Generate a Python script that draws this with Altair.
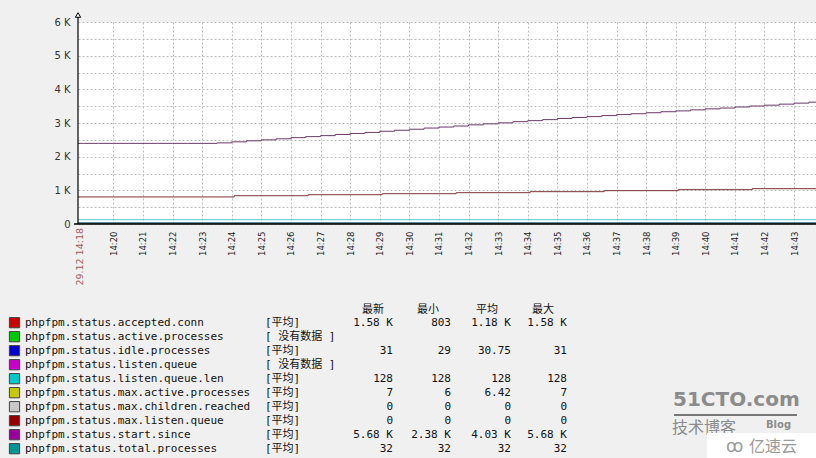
import altair as alt
import pandas as pd

# ---------------- data ----------------
x_domain = [18.807, 43.74]            # minutes after 14:00 (14:18:48 .. 14:43:44)
minute_ticks = list(range(20, 44))    # 14:20 .. 14:43
y_ticks = list(range(0, 6001, 500))

since_times = ["14:18:30", "14:19:00", "14:19:30", "14:20:00", "14:20:30", "14:21:00",
               "14:21:30", "14:22:00", "14:22:30", "14:23:00", "14:23:30", "14:24:00",
               "14:24:30", "14:25:00", "14:25:30", "14:26:00", "14:26:30", "14:27:00",
               "14:27:30", "14:28:00", "14:28:30", "14:29:00", "14:29:30", "14:30:00",
               "14:30:30", "14:31:00", "14:31:30", "14:32:00", "14:32:30", "14:33:00",
               "14:33:30", "14:34:00", "14:34:30", "14:35:00", "14:35:30", "14:36:00",
               "14:36:30", "14:37:00", "14:37:30", "14:38:00", "14:38:30", "14:39:00",
               "14:39:30", "14:40:00", "14:40:30", "14:41:00", "14:41:30", "14:42:00",
               "14:42:30", "14:43:00", "14:43:30", "14:44:00"]
since_values = [2395, 2395, 2395, 2395, 2395, 2395, 2395, 2395, 2395, 2395, 2410, 2440,
                2470, 2500, 2530, 2565, 2595, 2625, 2660, 2690, 2720, 2755, 2785, 2815,
                2850, 2880, 2910, 2945, 2975, 3005, 3040, 3070, 3100, 3135, 3165, 3190,
                3220, 3250, 3275, 3305, 3335, 3360, 3390, 3420, 3445, 3475, 3505, 3530,
                3560, 3590, 3620, 3645]

conn_times = ["14:18:30", "14:24:05", "14:26:35", "14:29:05", "14:31:35", "14:34:05",
              "14:36:35", "14:39:05", "14:41:35", "14:44:00"]
conn_values = [803, 840, 870, 900, 930, 960, 990, 1020, 1050, 1050]

flat_times = ["14:18:30", "14:44:00"]
idle_values = [31, 31]
queue_len_values = [128, 128]
max_active_values = [7, 7]
max_children_values = [0, 0]
max_listen_values = [0, 0]
total_values = [32, 32]

# legend table
names = ["phpfpm.status.accepted.conn", "phpfpm.status.active.processes",
         "phpfpm.status.idle.processes", "phpfpm.status.listen.queue",
         "phpfpm.status.listen.queue.len", "phpfpm.status.max.active.processes",
         "phpfpm.status.max.children.reached", "phpfpm.status.max.listen.queue",
         "phpfpm.status.start.since", "phpfpm.status.total.processes"]
swatch_colors = ["#C80000", "#00C800", "#0000C8", "#C800C8", "#00C8C8",
                 "#C8C800", "#C8C8C8", "#960000", "#960096", "#009696"]
funcs = ["[平均]", "[ 没有数据 ]", "[平均]", "[ 没有数据 ]", "[平均]",
         "[平均]", "[平均]", "[平均]", "[平均]", "[平均]"]
col_last = ["1.58 K", "", "31", "", "128", "7", "0", "0", "5.68 K", "32"]
col_min = ["803", "", "29", "", "128", "6", "0", "0", "2.38 K", "32"]
col_avg = ["1.18 K", "", "30.75", "", "128", "6.42", "0", "0", "4.03 K", "32"]
col_max = ["1.58 K", "", "31", "", "128", "7", "0", "0", "5.68 K", "32"]
headers = ["最新", "最小", "平均", "最大"]

# apparent line colours in the plot (thin lines look darker than the swatches)
line_names = ["accepted.conn", "idle.processes", "listen.queue.len", "max.active.processes",
              "max.children.reached", "max.listen.queue", "start.since", "total.processes"]
line_colors = ["#7a3436", "#3a3a8a", "#5ec6c6", "#a09a40", "#b0b0b0", "#6a2020",
               "#6a386a", "#2a8a86"]


def to_min(s):
    h, m, sec = map(int, s.split(":"))
    return (h - 14) * 60 + m + sec / 60.0


rows = []
for t, v in zip(conn_times, conn_values):
    rows.append((to_min(t), v, "accepted.conn"))
for lst, nm in [(idle_values, "idle.processes"), (queue_len_values, "listen.queue.len"),
                (max_active_values, "max.active.processes"),
                (max_children_values, "max.children.reached"),
                (max_listen_values, "max.listen.queue")]:
    for t, v in zip(flat_times, lst):
        rows.append((to_min(t), v, nm))
for t, v in zip(since_times, since_values):
    rows.append((to_min(t), v, "start.since"))
for t, v in zip(flat_times, total_values):
    rows.append((to_min(t), v, "total.processes"))
series_df = pd.DataFrame(rows, columns=["t", "value", "series"])

legend_df = pd.DataFrame({
    "row": list(range(len(names))), "name": names, "swatch": swatch_colors,
    "func": funcs, "last": col_last, "min": col_min, "avg": col_avg, "max": col_max,
})
one = pd.DataFrame({"k": [0]})

W, H = 738, 202
GRID = "#bdbdbd"
MONO = "DejaVu Sans Mono, Noto Sans CJK SC"

x_enc = alt.X("t:Q", scale=alt.Scale(domain=x_domain, nice=False, zero=False),
              axis=alt.Axis(values=minute_ticks, labelExpr="'14:' + datum.value",
                            labelAngle=270, labelAlign="right", labelBaseline="middle",
                            labelPadding=7, labelFont="DejaVu Sans", labelFontSize=8.5,
                            labelColor="#222222", grid=True, gridDash=[2, 2],
                            gridColor=GRID, ticks=False, domain=False, title=None,
                            labelOverlap=False, labelFlush=False, labelBound=False))
y_enc = alt.Y("value:Q", scale=alt.Scale(domain=[0, 6000], nice=False),
              axis=alt.Axis(values=y_ticks,
                            labelExpr="datum.value == 0 ? '0' : (datum.value % 1000 == 0 ? (datum.value / 1000) + ' K' : '')",
                            grid=True, gridDash=[2, 2], gridColor=GRID, ticks=False,
                            domain=False, labelFont="DejaVu Sans", labelFontSize=10,
                            labelColor="#333333", labelPadding=8, title=None))

lines = alt.Chart(series_df).mark_line(strokeWidth=1, interpolate="step-after", clip=True).encode(
    x=x_enc, y=y_enc,
    color=alt.Color("series:N", scale=alt.Scale(domain=line_names, range=line_colors), legend=None),
)

deco = alt.Chart(one)
y_axis_line = deco.mark_rule(color="black", strokeWidth=1.2).encode(
    x=alt.value(0), y=alt.value(-9), y2=alt.value(H))
x_axis_line = deco.mark_rule(color="black", strokeWidth=1.5).encode(
    x=alt.value(-4), x2=alt.value(W), y=alt.value(H))
arrow = deco.mark_point(shape="triangle-up", filled=True, fill="white",
                        stroke="black", strokeWidth=1, size=28, opacity=1).encode(
    x=alt.value(0), y=alt.value(-7))
start_label = deco.mark_text(
    text="29.12 14:18", angle=270, align="right", baseline="middle",
    font="DejaVu Sans", fontSize=9.5, color="#a05a5a").encode(
    x=alt.value(2), y=alt.value(206))

plot = alt.layer(lines, y_axis_line, x_axis_line, arrow, start_label)

# ---------------- legend table ----------------
row_y = alt.Y("row:Q", scale=alt.Scale(domain=[0, 9], range=[300.7, 426.7], nice=False, zero=False),
              axis=None)
leg_base = alt.Chart(legend_df)
swatches = leg_base.mark_square(size=105, filled=True, stroke="#444444", strokeWidth=1, opacity=1).encode(
    x=alt.value(-63.5), y=row_y, fill=alt.Fill("swatch:N", scale=None))
name_txt = leg_base.mark_text(align="left", baseline="middle", font=MONO, fontSize=11,
                              color="#111111").encode(x=alt.value(-53), y=row_y, text="name:N")
func_txt = leg_base.mark_text(align="left", baseline="middle", font=MONO, fontSize=11,
                              color="#111111").encode(x=alt.value(187), y=row_y, text="func:N")
legend_layers = [swatches, name_txt, func_txt]
for field, right_x, head, head_x in [("last", 315, headers[0], 295), ("min", 373, headers[1], 350),
                                     ("avg", 433, headers[2], 409), ("max", 489, headers[3], 465)]:
    legend_layers.append(leg_base.mark_text(align="right", baseline="middle", font=MONO, fontSize=11,
                                            color="#111111").encode(
        x=alt.value(right_x), y=row_y, text=f"{field}:N"))
    legend_layers.append(deco.mark_text(
        text=head, align="center", baseline="middle", font=MONO, fontSize=11, color="#111111").encode(
        x=alt.value(head_x), y=alt.value(288)))

# watermark
legend_layers += [
    deco.mark_text(text="51CTO.com", align="left", baseline="middle", font="DejaVu Sans",
                   fontWeight="bold", fontSize=20, color="#8c8c8c").encode(x=alt.value(595), y=alt.value(378)),
    deco.mark_rule(color="#777777", strokeWidth=2).encode(x=alt.value(596), x2=alt.value(719), y=alt.value(393)),
    deco.mark_text(text="技术博客", align="left", baseline="middle", font="Noto Sans CJK SC",
                   fontSize=16, color="#8c8c8c").encode(x=alt.value(594), y=alt.value(406)),
    deco.mark_text(text="Blog", align="left", baseline="middle", font="DejaVu Sans",
                   fontWeight="bold", fontSize=10, color="#8c8c8c").encode(x=alt.value(688), y=alt.value(403)),
    deco.mark_rect(color="white", opacity=1).encode(x=alt.value(629), x2=alt.value(738),
                                                    y=alt.value(411), y2=alt.value(436)),
    deco.mark_text(text="亿速云", align="left", baseline="middle", font="Noto Sans CJK SC",
                   fontSize=16, color="#9a9a9a").encode(x=alt.value(671), y=alt.value(425)),
    deco.mark_text(text="ꝏ", align="left", baseline="middle", font="DejaVu Sans",
                   fontSize=17, color="#9a9a9a").encode(x=alt.value(648), y=alt.value(425)),
]
legend = alt.layer(*legend_layers)

chart = alt.layer(plot, legend).resolve_scale(y="independent").properties(
    width=W, height=H,
    autosize=alt.AutoSizeParams(type="none"),
    padding={"left": 78, "top": 22, "right": 0, "bottom": 234},
    background="#f0f0f0",
).configure_view(fill="white", stroke=None)

chart.save("out.html", embed_options={"renderer": "svg", "actions": False})
